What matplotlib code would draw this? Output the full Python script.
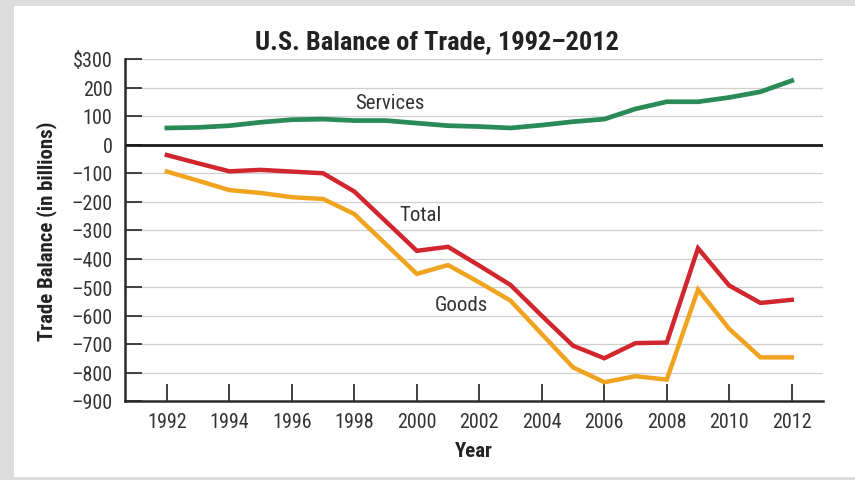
import matplotlib
matplotlib.use("Agg")
import matplotlib.pyplot as plt
from matplotlib.patches import Rectangle
from matplotlib import font_manager as fm

years = list(range(1992, 2013))
services = [58, 60, 66, 78, 87, 89, 84, 84, 75, 66, 63, 58, 68, 80, 89, 125, 150, 150, 165, 185, 224]
total = [-37, -66, -94, -89, -95, -101, -165, -269, -373, -359, -425, -493, -601, -706, -750, -697, -695, -364, -495, -556, -545]
goods = [-95, -127, -160, -170, -185, -191, -244, -349, -454, -423, -484, -548, -665, -782, -834, -813, -825, -509, -647, -747, -747]
yticks = [300, 200, 100, 0, -100, -200, -300, -400, -500, -600, -700, -800, -900]
ytick_labels = ["\\$300", "200", "100", "0", "–100", "–200", "–300", "–400", "–500",
                "–600", "–700", "–800", "–900"]
xticks = list(range(1992, 2013, 2))

names = {f.name for f in fm.fontManager.ttflist}
cond_dejavu = any(f.name == 'DejaVu Sans' and 'condensed' in str(f.stretch).lower()
                  for f in fm.fontManager.ttflist)
family = None
stretch = 'normal'
for cand in ['Liberation Sans Narrow', 'DejaVu Sans Condensed', 'Roboto Condensed',
             'Open Sans Condensed']:
    if cand in names:
        family = cand
        break
if family is None:
    if cond_dejavu:
        family = 'DejaVu Sans'
        stretch = 'condensed'
    else:
        family = 'Liberation Sans'
plt.rcParams['font.family'] = [family, 'DejaVu Sans']
plt.rcParams['font.stretch'] = stretch

W, H = 855, 481
fig = plt.figure(figsize=(W / 100, H / 100), dpi=100)
fig.patch.set_facecolor('#dcdcdc')
fig.patches.append(Rectangle((14 / W, 1 - 478 / H), (855 - 14) / W, (478 - 7) / H,
                             transform=fig.transFigure, facecolor='white',
                             edgecolor='none', zorder=-5))

ax = fig.add_axes([125 / W, 1 - 402 / H, 698 / W, 342 / H])
ax.set_zorder(5)
ax.set_facecolor('none')

ax.set_xlim(1990.66, 2013.0)
ax.set_ylim(-900, 300)

for v in yticks:
    if v == 0:
        ax.axhline(0, color='#1a1a1a', lw=2.0, zorder=2)
    elif v != -900:
        ax.axhline(v, color='#cfcfcf', lw=0.9, zorder=1)

ax.plot(years, services, color='#2a8a58', lw=3.4, solid_joinstyle='round', zorder=3)
ax.plot(years, goods, color='#f0a31f', lw=3.2, solid_joinstyle='miter', zorder=3)
ax.plot(years, total, color='#d2262e', lw=3.2, solid_joinstyle='miter', zorder=4)

txtc = '#333333'
ax.text(1999.14, 149, 'Services', ha='center', va='center', fontsize=15, color=txtc)
ax.text(2000.13, -244, 'Total', ha='center', va='center', fontsize=15, color=txtc)
ax.text(2001.44, -563, 'Goods', ha='center', va='center', fontsize=15, color=txtc)

ax.set_yticks(yticks)
ax.set_yticklabels(ytick_labels)
ax.set_xticks(xticks)
ax.set_xticklabels([str(x) for x in xticks])
ax.tick_params(axis='y', direction='in', length=12, width=1.3, color='#333333',
               labelsize=14.5, labelcolor=txtc, pad=9)
ax.tick_params(axis='x', direction='in', length=12, width=1.3, color='#333333',
               labelsize=14.5, labelcolor=txtc, pad=8)

for s in ['top', 'right']:
    ax.spines[s].set_visible(False)
for s in ['left', 'bottom']:
    ax.spines[s].set_color('#2a2a2a')
    ax.spines[s].set_linewidth(1.8)

ax.set_ylabel('Trade Balance (in billions)', fontsize=15, fontweight='bold',
              color='#222222', labelpad=10)
ax.set_xlabel('Year', fontsize=15, fontweight='bold', color='#222222', labelpad=7)
fig.text(437 / W, 1 - 42 / H, 'U.S. Balance of Trade, 1992–2012', ha='center', va='center',
         fontsize=19, fontweight='bold', color='#222222')

fig.savefig('out.png', dpi=100, facecolor=fig.get_facecolor())
